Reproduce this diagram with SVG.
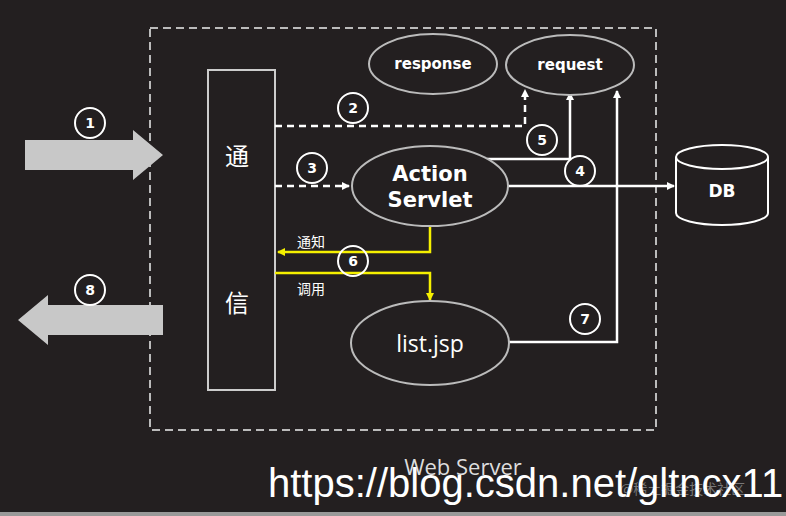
<svg xmlns="http://www.w3.org/2000/svg" width="786" height="516" viewBox="0 0 786 516">
<defs>
<style>
.l{stroke:#fff;stroke-width:2.5;fill:none}
.d{stroke-dasharray:7 5}
.y{stroke:#f5f000;stroke-width:2.5;fill:none}
.e{fill:#231f20;stroke:#bbb;stroke-width:2}
.c{fill:none;stroke:#fff;stroke-width:2}
.n{font-family:"DejaVu Sans",sans-serif;font-weight:bold;fill:#fff;text-anchor:middle}
.t{font-family:"Open Sans","Liberation Sans",sans-serif;fill:#fff;text-anchor:middle}
.cj{font-family:"Noto Sans CJK SC",sans-serif;fill:#fff}
</style>
<marker id="aw" markerWidth="8" markerHeight="8" refX="7" refY="4" orient="auto" markerUnits="userSpaceOnUse"><path d="M0,0L8,4L0,8z" fill="#fff"/></marker>
<marker id="ay" markerWidth="8" markerHeight="8" refX="7" refY="4" orient="auto" markerUnits="userSpaceOnUse"><path d="M0,0L8,4L0,8z" fill="#f5f000"/></marker>
</defs>
<rect width="786" height="516" fill="#231f20"/>
<rect x="0" y="512" width="786" height="4" fill="#999"/>
<rect x="150" y="28" width="506" height="402" fill="none" stroke="#bbb" stroke-width="2" stroke-dasharray="8 5"/>
<g id="arrows-big">
<path d="M25,140H133V130L163,155L133,180V170H25z" fill="#c8c8c8"/>
<path d="M163,305H48V295L18,320L48,345V335H163z" fill="#c8c8c8"/>
</g>
<g id="comm"><rect x="208" y="70" width="67" height="320" fill="#231f20" stroke="#ccc" stroke-width="2"/>
<text class="cj" x="237" y="165" font-size="24" text-anchor="middle">通</text>
<text class="cj" x="237" y="312" font-size="24" text-anchor="middle">信</text></g>
<g id="connectors">
<path class="l d" d="M275,126H525V90" marker-end="url(#aw)"/>
<path class="l d" d="M275,186H349" marker-end="url(#aw)"/>
<path class="l" d="M487,159H570V93" marker-end="url(#aw)"/>
<path class="l" d="M508,186H674" marker-end="url(#aw)"/>
<path class="l" d="M509,342H617V91" marker-end="url(#aw)"/>
<path class="y" d="M430,226V252H278" marker-end="url(#ay)"/>
<path class="y" d="M275,273H430V300" marker-end="url(#ay)"/>
</g>
<g id="response"><ellipse class="e" cx="433" cy="64" rx="64" ry="30"/><text class="n" x="433" y="69" font-size="15">response</text></g>
<g id="request"><ellipse class="e" cx="570" cy="65" rx="64" ry="30"/><text class="n" x="570" y="70" font-size="15">request</text></g>
<g id="action"><ellipse class="e" cx="430" cy="186" rx="78" ry="40"/><text class="n" x="430" y="181" font-size="21">Action</text><text class="n" x="430" y="207" font-size="21">Servlet</text></g>
<g id="list"><ellipse class="e" cx="430" cy="343" rx="79" ry="42"/><text class="t" x="430" y="352" font-size="23">list.jsp</text></g>
<g id="db"><path d="M676,157V213A46,12 0 0 0 768,213V157" fill="#231f20" stroke="#fff" stroke-width="2"/><ellipse cx="722" cy="157" rx="46" ry="12" fill="#231f20" stroke="#fff" stroke-width="2"/><text class="n" x="722" y="197" font-size="17">DB</text></g>
<g id="nums" font-size="14">
<circle class="c" cx="90" cy="123" r="15"/><text class="n" x="90" y="128">1</text>
<circle class="c" cx="353" cy="108" r="15"/><text class="n" x="353" y="113">2</text>
<circle class="c" cx="312" cy="168" r="15"/><text class="n" x="312" y="173">3</text>
<circle class="c" cx="580" cy="171" r="15"/><text class="n" x="580" y="176">4</text>
<circle class="c" cx="542" cy="140" r="15"/><text class="n" x="542" y="145">5</text>
<circle class="c" cx="353" cy="261" r="15"/><text class="n" x="353" y="266">6</text>
<circle class="c" cx="585" cy="319" r="15"/><text class="n" x="585" y="324">7</text>
<circle class="c" cx="90" cy="290" r="15"/><text class="n" x="90" y="295">8</text>
</g>
<text class="cj" x="297" y="247" font-size="14">通知</text>
<text class="cj" x="297" y="294" font-size="14">调用</text>
<text class="t" x="463" y="475" font-size="22" style="fill:#ddd">Web Server</text>
<text x="620" y="494" font-family="Noto Sans CJK SC,sans-serif" font-size="14" fill="#777">@稀土掘金技术社区</text>
<text x="268" y="497" font-family="Liberation Sans,sans-serif" font-size="40" fill="#fff">https://blog.csdn.net/gltncx11</text>
</svg>
